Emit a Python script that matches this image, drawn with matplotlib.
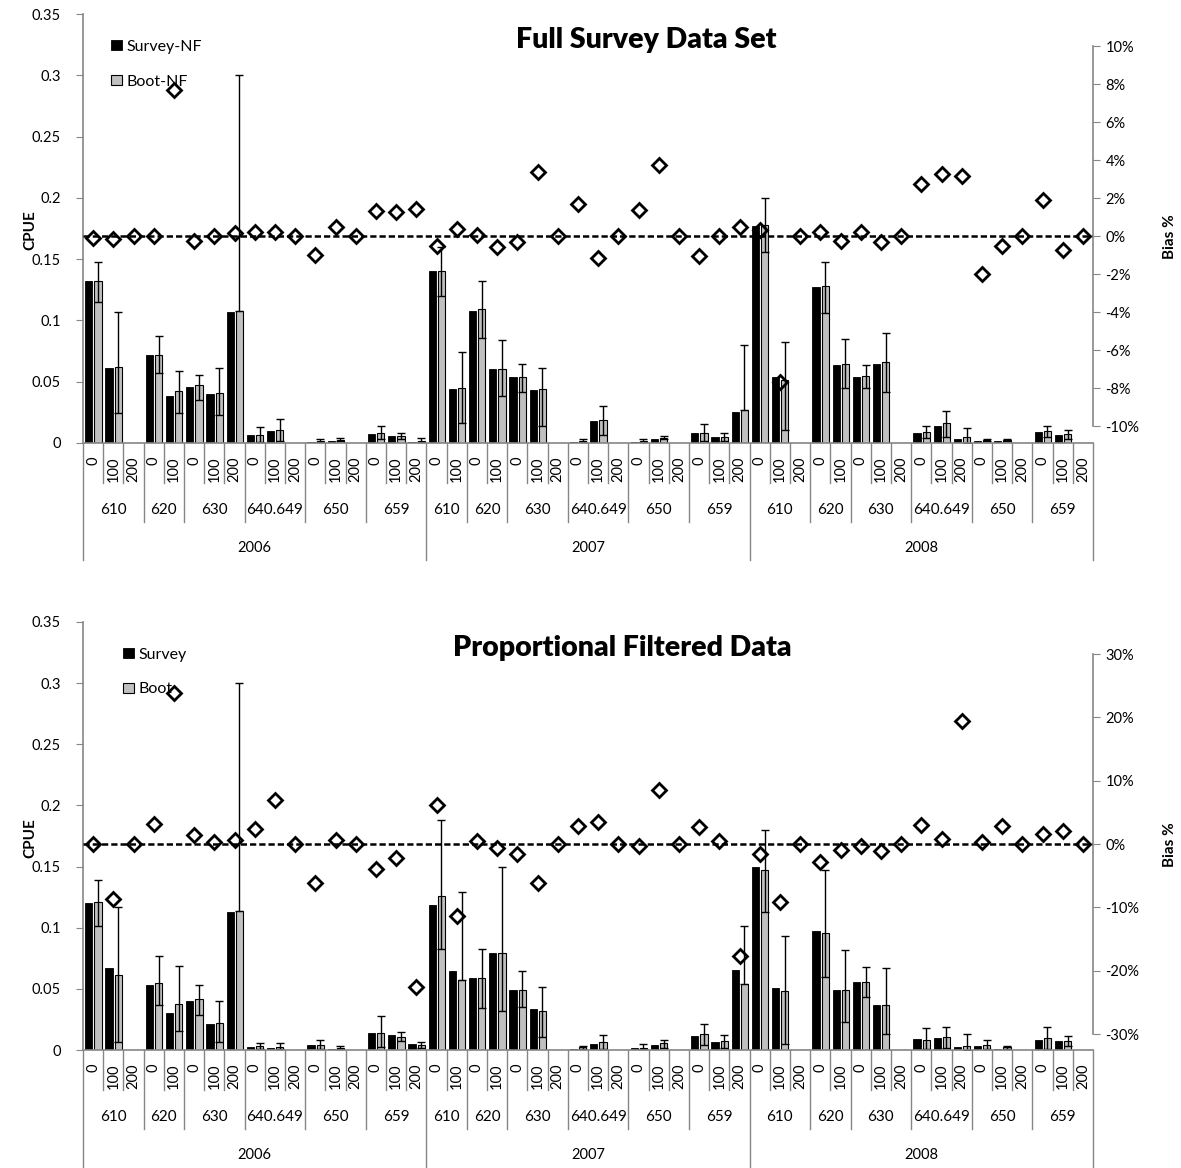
import numpy as np
import matplotlib
matplotlib.use('Agg')
import matplotlib.pyplot as plt
import matplotlib.transforms as mtransforms
from matplotlib.ticker import FuncFormatter, MultipleLocator

plt.rcParams['font.family'] = ['Lato', 'DejaVu Sans']
plt.rcParams['axes.unicode_minus'] = False

W, H = 1181, 1168

years = ['2006', '2007', '2008']
areas = ['610', '620', '630', '640.649', '650', '659']
# depth strata sampled in each area, per year
depths_2006 = [['0', '100', '200'], ['0', '100'], ['0', '100', '200'],
               ['0', '100', '200'], ['0', '100', '200'], ['0', '100', '200']]
depths_2007 = [['0', '100'], ['0', '100'], ['0', '100', '200'],
               ['0', '100', '200'], ['0', '100', '200'], ['0', '100', '200']]
depths_2008 = [['0', '100', '200'], ['0', '100'], ['0', '100', '200'],
               ['0', '100', '200'], ['0', '100', '200'], ['0', '100', '200']]

nan = np.nan

# ---- Full survey data set ----
survey_nf = [0.132, 0.061, 0, 0.072, 0.038, 0.046, 0.040, 0.107, 0.0065, 0.0098, 0, 0.001, 0.002, 0, 0.0076, 0.0054, 0.001,
             0.140, 0.044, 0.108, 0.060, 0.054, 0.043, 0, 0.0006, 0.0176, 0, 0.0012, 0.003, 0, 0.0078, 0.0045, 0.0253,
             0.177, 0.054, 0, 0.127, 0.0636, 0.0538, 0.0647, 0, 0.0078, 0.014, 0.003, 0.0015, 0.0015, 0, 0.0087, 0.0065, 0]
boot_nf = [0.132, 0.062, 0, 0.072, 0.0424, 0.047, 0.0405, 0.108, 0.0065, 0.0106, 0, 0.002, 0.0028, 0, 0.0085, 0.0057, 0.002,
           0.140, 0.0445, 0.109, 0.060, 0.054, 0.044, 0, 0.0015, 0.019, 0, 0.002, 0.0043, 0, 0.0078, 0.0047, 0.0266,
           0.178, 0.051, 0, 0.128, 0.0644, 0.0546, 0.0658, 0, 0.009, 0.016, 0.0045, 0.0025, 0.0022, 0, 0.0096, 0.007, 0]
boot_nf_hi = [0.148, 0.107, nan, 0.087, 0.0587, 0.0555, 0.061, 0.300, 0.013, 0.0193, nan, 0.003, 0.004, nan, 0.0136, 0.0084, 0.004,
              0.160, 0.0745, 0.132, 0.084, 0.0644, 0.061, nan, 0.003, 0.0304, nan, 0.0035, 0.0055, nan, 0.0155, 0.008, 0.080,
              0.200, 0.082, nan, 0.1473, 0.085, 0.0633, 0.0894, nan, 0.014, 0.0264, 0.012, 0.003, 0.003, nan, 0.014, 0.0105, nan]
boot_nf_lo = [0.115, 0.0247, nan, 0.057, 0.0247, 0.035, 0.0226, 0.108, 0.001, 0.002, nan, 0.001, 0.0015, nan, 0.003, 0.003, 0.001,
              0.120, 0.0163, 0.086, 0.038, 0.042, 0.0137, nan, 0.0005, 0.0065, nan, 0.001, 0.003, nan, 0.002, 0.002, 0.0266,
              0.156, 0.0105, nan, 0.1057, 0.0445, 0.0445, 0.0413, nan, 0.004, 0.005, 0.0, 0.002, 0.0015, nan, 0.005, 0.003, nan]
bias_nf = [-0.1, -0.15, 0.0, 0.0, 7.66, -0.25, 0.0, 0.15, 0.2, 0.2, 0.0, -1.0, 0.45, 0.0, 1.3, 1.25, 1.4,
           -0.5, 0.37, 0.05, -0.6, -0.33, 3.39, 0.0, 1.68, -1.17, 0.0, 1.38, 3.73, 0.0, -1.03, 0.0, 0.45,
           0.3, -7.7, 0.0, 0.2, -0.25, 0.2, -0.33, 0.0, 2.72, 3.25, 3.16, -1.99, -0.54, 0.0, 1.9, -0.73, 0.0]

# ---- Proportional filtered data ----
survey_pf = [0.120, 0.0673, 0, 0.0529, 0.0304, 0.0402, 0.0212, 0.1132, 0.0027, 0.0014, 0, 0.0038, 0.0005, 0, 0.0141, 0.012, 0.0052,
             0.1187, 0.0643, 0.0586, 0.0796, 0.0489, 0.0337, 0, 0.0005, 0.0052, 0, 0.0019, 0.004, 0, 0.0117, 0.0062, 0.0651,
             0.1493, 0.051, 0, 0.0977, 0.0489, 0.0556, 0.0366, 0, 0.0087, 0.0095, 0.0022, 0.0033, 0.0005, 0, 0.0081, 0.0073, 0]
boot_pf = [0.121, 0.0616, 0, 0.0551, 0.0375, 0.0413, 0.0223, 0.114, 0.0035, 0.0027, 0, 0.0038, 0.002, 0, 0.0141, 0.0109, 0.0041,
           0.126, 0.0576, 0.0585, 0.0796, 0.0489, 0.0323, 0, 0.0025, 0.0062, 0, 0.0019, 0.0054, 0, 0.0128, 0.0073, 0.054,
           0.1471, 0.048, 0, 0.0955, 0.0489, 0.0556, 0.0366, 0, 0.0081, 0.0103, 0.0033, 0.0041, 0.0027, 0, 0.0095, 0.0073, 0]
boot_pf_hi = [0.1393, 0.1166, nan, 0.0768, 0.069, 0.0529, 0.040, 0.300, 0.006, 0.006, nan, 0.0081, 0.003, nan, 0.0277, 0.015, 0.0068,
              0.188, 0.1293, 0.0822, 0.150, 0.065, 0.0519, nan, 0.003, 0.0125, nan, 0.0049, 0.0081, nan, 0.0212, 0.0125, 0.101,
              0.1797, 0.0934, nan, 0.1471, 0.0814, 0.0678, 0.067, nan, 0.0182, 0.019, 0.0128, 0.0081, 0.0033, nan, 0.019, 0.0114, nan]
boot_pf_lo = [0.101, 0.0063, nan, 0.0366, 0.0157, 0.0285, 0.0068, 0.114, 0.001, 0.001, nan, 0.001, 0.001, nan, 0.0027, 0.0076, 0.0015,
              0.0822, 0.0576, 0.0345, 0.0323, 0.0353, 0.0103, nan, 0.001, 0.0005, nan, 0.001, 0.002, nan, 0.004, 0.002, 0.054,
              0.1126, 0.0046, nan, 0.0597, 0.0225, 0.0434, 0.0128, nan, 0.0005, 0.002, 0.0, 0.001, 0.001, nan, 0.0005, 0.0032, nan]
bias_pf = [0, -8.75, 0, 3.1, 23.8, 1.4, 0.27, 0.6, 2.3, 6.9, 0, -6.1, 0.6, 0, -4.0, -2.2, -22.5,
           6.1, -11.4, 0.5, -0.6, -1.5, -6.2, 0, 2.85, 3.4, 0, -0.35, 8.5, 0, 2.7, 0.5, -17.7,
           -1.6, -9.1, 0, -2.85, -0.9, -0.37, -1.1, 0, 2.95, 0.85, 19.4, 0.3, 2.8, 0, 1.6, 2.05, 0]

# build category hierarchy
cat_year, cat_area, cat_depth = [], [], []
for yr, dlist in zip(years, [depths_2006, depths_2007, depths_2008]):
    for ar, ds in zip(areas, dlist):
        for d in ds:
            cat_year.append(yr)
            cat_area.append(ar)
            cat_depth.append(d)
n = len(cat_depth)
x = np.arange(n)

GREY = '#868686'


def px_rect(x0, y0, x1, y1):
    return [x0 / W, 1 - y1 / H, (x1 - x0) / W, (y1 - y0) / H]


def draw_panel(fig, rect, rrect, survey, boot, hi, lo, bias, rlim, rstep,
               title, title_xy, leg_labels, leg_anchor):
    ax = fig.add_axes(rect)
    axr = fig.add_axes(rrect)
    axr.patch.set_visible(False)

    survey = np.array(survey, float)
    boot = np.array(boot, float)
    hi = np.array(hi, float)
    lo = np.array(lo, float)

    b1 = ax.bar(x - 0.21, survey, width=0.36, color='black', edgecolor='black', linewidth=0.6)
    b2 = ax.bar(x + 0.24, boot, width=0.36, color='#c0c0c0', edgecolor='black', linewidth=0.8)
    ok = ~np.isnan(hi)
    ax.errorbar(x[ok] + 0.24, boot[ok], yerr=[boot[ok] - lo[ok], hi[ok] - boot[ok]],
                fmt='none', ecolor='black', elinewidth=1.0, capsize=3, capthick=1.0)

    ax.set_xlim(-0.5, n - 0.5)
    ax.set_ylim(0, 0.35)
    ax.yaxis.set_major_locator(MultipleLocator(0.05))
    ax.yaxis.set_major_formatter(FuncFormatter(lambda v, p: '%g' % round(v, 2)))
    ax.tick_params(axis='y', direction='out', length=5, color=GREY, labelsize=10.5, pad=11)
    ax.set_xticks([])
    for s in ['top', 'right']:
        ax.spines[s].set_visible(False)
    for s in ['left', 'bottom']:
        ax.spines[s].set_color(GREY)
        ax.spines[s].set_linewidth(1.2)

    # hierarchical category axis
    tr = mtransforms.blended_transform_factory(ax.transData, ax.transAxes)
    for i in range(n + 1):
        xb = i - 0.5
        yend = -0.093
        if i == 0 or i == n or cat_area[i] != cat_area[i - 1] or cat_year[i] != cat_year[i - 1]:
            yend = -0.184
        if i == 0 or i == n or cat_year[i] != cat_year[i - 1]:
            yend = -0.273
        ax.plot([xb, xb], [0, yend], transform=tr, color=GREY, lw=1.0, clip_on=False)
    for i in range(n):
        ax.text(i, -0.032, cat_depth[i], transform=tr, rotation=90, ha='center', va='top', fontsize=10.5)
    # area and year group labels
    start = 0
    for i in range(1, n + 1):
        if i == n or cat_area[i] != cat_area[start] or cat_year[i] != cat_year[start]:
            ax.text((start + i - 1) / 2, -0.156, cat_area[start], transform=tr,
                    ha='center', va='center', fontsize=11)
            start = i
    start = 0
    for i in range(1, n + 1):
        if i == n or cat_year[i] != cat_year[start]:
            ax.text((start + i - 1) / 2, -0.245, cat_year[start], transform=tr,
                    ha='center', va='center', fontsize=10.5)
            start = i

    # bias on secondary axis
    axr.set_xlim(-0.5, n - 0.5)
    axr.set_ylim(-rlim, rlim)
    axr.axhline(0, color='black', lw=1.8, linestyle=(0, (2.5, 1.2)))
    axr.plot(x, bias, linestyle='none', marker='D', markersize=7.5, markerfacecolor='none',
             markeredgecolor='black', markeredgewidth=2.0, clip_on=False)
    axr.yaxis.tick_right()
    axr.yaxis.set_major_locator(MultipleLocator(rstep))
    axr.yaxis.set_major_formatter(FuncFormatter(lambda v, p: '%d%%' % round(v)))
    axr.tick_params(axis='y', direction='out', length=5, color=GREY, labelsize=10.5, pad=4)
    axr.set_xticks([])
    for s in ['top', 'left', 'bottom']:
        axr.spines[s].set_visible(False)
    axr.spines['right'].set_color(GREY)
    axr.spines['right'].set_linewidth(1.2)

    fig.text(title_xy[0] / W, 1 - title_xy[1] / H, title, ha='center', va='center',
             fontsize=20.5, fontweight='heavy')
    ax.legend([b1, b2], leg_labels, loc='upper left', bbox_to_anchor=leg_anchor, frameon=False,
              fontsize=11.5, labelspacing=1.3, handlelength=0.65, handleheight=0.65,
              handletextpad=0.3, borderpad=0, borderaxespad=0)
    return ax, axr


fig = plt.figure(figsize=(W / 100, H / 100), dpi=100)

ax1, ax1r = draw_panel(fig, px_rect(83, 14, 1093, 443), px_rect(83, 46, 1093, 426),
                       survey_nf, boot_nf, boot_nf_hi, boot_nf_lo, bias_nf, 10, 2,
                       'Full Survey Data Set', (646, 40), ['Survey-NF', 'Boot-NF'], (0.028, 0.94))
fig.text(30 / W, 1 - 230 / H, 'CPUE', rotation=90, ha='center', va='center', fontsize=11, fontweight='bold')
fig.text(1170 / W, 1 - 237 / H, 'Bias %', rotation=90, ha='center', va='center', fontsize=11, fontweight='bold')

ax2, ax2r = draw_panel(fig, px_rect(83, 622, 1093, 1050), px_rect(83, 654, 1093, 1034),
                       survey_pf, boot_pf, boot_pf_hi, boot_pf_lo, bias_pf, 30, 10,
                       'Proportional Filtered Data', (622, 648), ['Survey', 'Boot'], (0.040, 0.94))
fig.text(30 / W, 1 - 838 / H, 'CPUE', rotation=90, ha='center', va='center', fontsize=11, fontweight='bold')
fig.text(1170 / W, 1 - 845 / H, 'Bias %', rotation=90, ha='center', va='center', fontsize=11, fontweight='bold')

fig.savefig('out.png', dpi=100)
